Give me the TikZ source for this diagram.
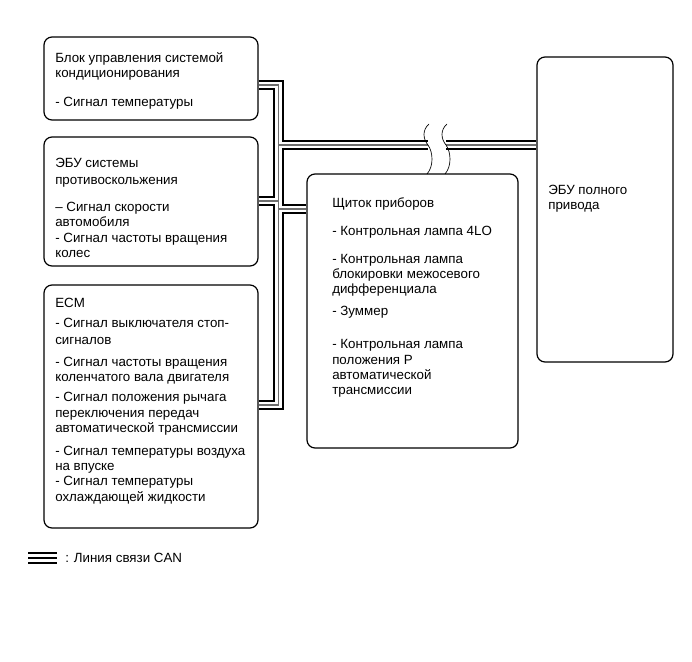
\documentclass[tikz,border=0pt]{standalone}
\usepackage{fontspec}
\setmainfont{Liberation Sans}
\usetikzlibrary{backgrounds}
\definecolor{WireGray}{RGB}{110,110,110}
\tikzset{
  box/.style={draw=black,line width=.9pt,rounded corners=6pt,fill=white,inner sep=0pt},
  txt/.style={font=\fontsize{10}{11.5}\selectfont,align=left,inner sep=0pt,anchor=north west},
  can/.style={line width=7.6pt,draw=black,postaction={draw=white,line width=5pt},postaction={draw=WireGray,line width=.8pt}},
  cankey/.style={line width=8.4pt,draw=black,postaction={draw=white,line width=5.8pt},postaction={draw=black,line width=1.2pt}},
  brk/.style={line width=.5pt,draw=black}
}

\begin{document}
\begin{tikzpicture}[x=.75pt,y=-.75pt]
  \useasboundingbox (0,0) rectangle (692,661);
  \node[box,minimum width=160.5pt,minimum height=62.25pt] (acBox) at (151,78.5) {};
  \node[box,minimum width=160.5pt,minimum height=96.75pt] (absBox) at (151,201.5) {};
  \node[box,minimum width=160.5pt,minimum height=182.25pt] (ecmBox) at (151,406.5) {};
  \node[box,minimum width=158.25pt,minimum height=205.5pt] (meterBox) at (412.5,311) {};
  \node[box,minimum width=102pt,minimum height=228.75pt] (awdBox) at (605,209.5) {};
  \node[txt] (acText) at (55,52) {Блок управления системой\\кондиционирования\\[10.3pt]- Сигнал температуры};
  \node[txt] (absText) at (55,158) {ЭБУ системы\\[1.2pt]противоскольжения\\[8.8pt]– Сигнал скорости\\автомобиля\\- Сигнал частоты вращения\\колес};
  \node[txt] (ecmText) at (55,298) {ECM\\[3.5pt]- Сигнал выключателя стоп-\\[1.2pt]сигналов\\[5pt]- Сигнал частоты вращения\\коленчатого вала двигателя\\[3.5pt]- Сигнал положения рычага\\переключения передач\\автоматической трансмиссии\\[5.5pt]- Сигнал температуры воздуха\\на впуске\\- Сигнал температуры\\охлаждающей жидкости};
  \node[txt] (meterText) at (332,197) {Щиток приборов\\[9.5pt]- Контрольная лампа 4LO\\[9.5pt]- Контрольная лампа\\блокировки межосевого\\дифференциала\\[5pt]- Зуммер\\[13.3pt]- Контрольная лампа\\положения P\\автоматической\\трансмиссии};
  \node[txt] (awdText) at (548,185) {ЭБУ полного\\привода};
  \coordinate (tA) at (278.5,85);
  \coordinate (tE) at (278.5,145);
  \coordinate (tB) at (278.5,201);
  \coordinate (tD) at (278.5,209);
  \coordinate (tC) at (278.5,405);
  \coordinate (cut1) at (428,145);
  \coordinate (cut2) at (446,145);
  \begin{scope}[on background layer]
    \draw[can] (acBox.east |- tA) -- (tA) -- (tC) -- (ecmBox.east |- tC)
      (tB) -- (absBox.east |- tB) (tD) -- (meterBox.west |- tD)
      (tE) -- (cut1) (cut2) -- (awdBox.west |- tE);
  \end{scope}
  \foreach \cx in {428,446}
    \draw[brk] (\cx+1,124) .. controls (\cx-6,130) and (\cx-5,139) .. (\cx,145) .. controls (\cx+5,152) and (\cx+6,166) .. (\cx-1,174);
  \coordinate (keyA) at (28,558);
  \coordinate (keyB) at (57,558);
  \draw[cankey] (keyA) -- (keyB);
  \node[font=\fontsize{10}{11.5}\selectfont,anchor=west,inner sep=0pt] (keyText) at (65,558) {: Линия связи CAN};
\end{tikzpicture}
\end{document}
